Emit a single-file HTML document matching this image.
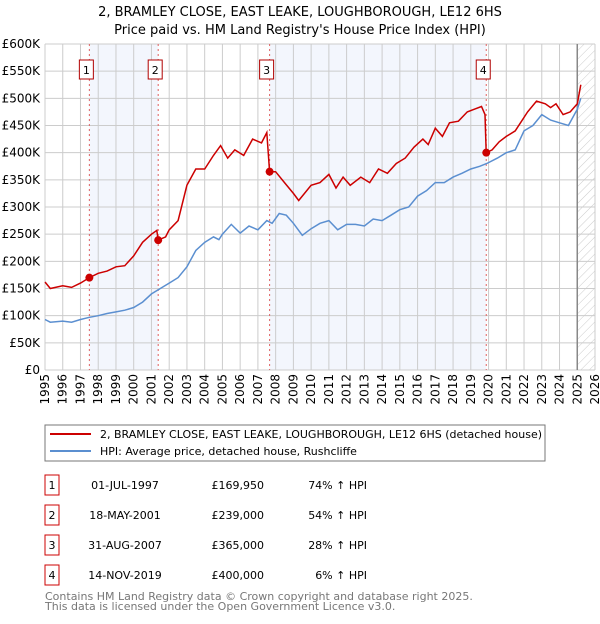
<!DOCTYPE html>
<html><head><meta charset="utf-8"><style>
body{margin:0;background:#fff;font-family:"DejaVu Sans","Liberation Sans",sans-serif;}
svg text{font-family:"DejaVu Sans","Liberation Sans",sans-serif;}
</style></head><body>
<svg id="c" width="600" height="620" xmlns="http://www.w3.org/2000/svg">
<defs><pattern id="h" width="6" height="6" patternUnits="userSpaceOnUse" patternTransform="rotate(45)"><line x1="0" y1="0" x2="0" y2="6" stroke="#ccc" stroke-width="1"/></pattern></defs>
<text x="300" y="16" text-anchor="middle" font-size="13">2, BRAMLEY CLOSE, EAST LEAKE, LOUGHBOROUGH, LE12 6HS</text>
<text x="300" y="34" text-anchor="middle" font-size="13">Price paid vs. HM Land Registry's House Price Index (HPI)</text>
<g id="plot"></g>
<rect x="45" y="425" width="500" height="36" fill="#fff" stroke="#777"/>
<line x1="50" y1="434" x2="91" y2="434" stroke="#cc0000" stroke-width="2"/>
<text x="100" y="438" font-size="11">2, BRAMLEY CLOSE, EAST LEAKE, LOUGHBOROUGH, LE12 6HS (detached house)</text>
<line x1="50" y1="451" x2="91" y2="451" stroke="#5b8fd0" stroke-width="2"/>
<text x="100" y="455" font-size="11">HPI: Average price, detached house, Rushcliffe</text>
<g id="tbl"></g>
<text x="45" y="600" font-size="11" fill="#777">Contains HM Land Registry data © Crown copyright and database right 2025.</text>
<text x="45" y="610" font-size="11" fill="#777">This data is licensed under the Open Government Licence v3.0.</text>
</svg>
<script>
const hpiX=[1995,1995.3,1996,1996.5,1997,1997.5,1998,1998.5,1999,1999.5,2000,2000.5,2001,2001.5,2002,2002.5,2003,2003.5,2004,2004.5,2004.8,2005,2005.5,2006,2006.5,2007,2007.5,2007.8,2008.2,2008.6,2009,2009.5,2010,2010.5,2011,2011.5,2012,2012.5,2013,2013.5,2014,2014.5,2015,2015.5,2016,2016.5,2017,2017.5,2018,2018.5,2019,2019.5,2019.9,2020.5,2021,2021.5,2022,2022.5,2023,2023.5,2024,2024.5,2025,2025.2];
const hpiY=[93,88,90,88,93,97,100,104,107,110,115,125,140,150,160,170,190,220,235,245,240,250,268,252,265,258,275,270,288,285,270,248,260,270,275,258,268,268,265,278,275,285,295,300,320,330,345,345,355,362,370,375,380,390,400,405,440,450,470,460,455,450,480,500];
const prX=[1995,1995.3,1996,1996.5,1997,1997.5,1998,1998.5,1999,1999.5,2000,2000.5,2001,2001.3,2001.38,2001.8,2002,2002.5,2003,2003.5,2004,2004.5,2004.9,2005.3,2005.7,2006.2,2006.7,2007.2,2007.5,2007.66,2008,2008.5,2009,2009.3,2010,2010.5,2011,2011.4,2011.8,2012.2,2012.8,2013.3,2013.8,2014.3,2014.8,2015.3,2015.8,2016.3,2016.6,2017,2017.4,2017.8,2018.3,2018.8,2019.2,2019.6,2019.8,2019.87,2020.2,2020.6,2021,2021.5,2021.8,2022.2,2022.7,2023.2,2023.5,2023.8,2024.2,2024.6,2025,2025.2];
const prY=[162,150,155,152,160,170,178,182,190,192,210,235,250,257,239,245,258,275,340,370,370,395,413,390,405,395,425,418,437,365,365,345,325,312,340,345,360,335,355,340,355,345,370,362,380,390,410,425,415,445,430,455,458,475,480,485,470,400,405,420,430,440,455,475,495,490,483,490,470,475,490,525];
const saleX=[1997.5,2001.38,2007.66,2019.87];
const saleY=[169.95,239,365,400];
const saleDates=["01-JUL-1997","18-MAY-2001","31-AUG-2007","14-NOV-2019"];
const salePrices=["£169,950","£239,000","£365,000","£400,000"];
const saleHpi=["74% ↑ HPI","54% ↑ HPI","28% ↑ HPI","6% ↑ HPI"];
const yTicks=[0,50,100,150,200,250,300,350,400,450,500,550,600];
const yLabels=["£0","£50K","£100K","£150K","£200K","£250K","£300K","£350K","£400K","£450K","£500K","£550K","£600K"];
const xTicks=[1995,1996,1997,1998,1999,2000,2001,2002,2003,2004,2005,2006,2007,2008,2009,2010,2011,2012,2013,2014,2015,2016,2017,2018,2019,2020,2021,2022,2023,2024,2025,2026];
const NS="http://www.w3.org/2000/svg";
const X=v=>45+(v-1995)*(550/31), Y=v=>370-v*(326/600);
const g=document.getElementById('plot');
function mk(t,a,p){const e=document.createElementNS(NS,t);for(const k in a)e.setAttribute(k,a[k]);(p||g).appendChild(e);return e;}
let e;
e=mk('rect',{x:X(saleX[0]),y:Y(600),width:X(saleX[1])-X(saleX[0]),height:Y(0)-Y(600),fill:'#f3f6fd'});


e=mk('rect',{x:X(saleX[2]),y:Y(600),width:X(saleX[3])-X(saleX[2]),height:Y(0)-Y(600),fill:'#f3f6fd'});


e=mk('rect',{x:X(2025),y:Y(600),width:X(2026)-X(2025),height:Y(0)-Y(600),fill:'url(#h)'});


yTicks.forEach((t,i)=>{
 e=mk('line',{x1:45,x2:595,y1:Y(t),y2:Y(t),stroke:'#ccc'});
 
 
 e=mk('text',{x:40,y:Y(t)+4,'text-anchor':'end','font-size':12});e.textContent=yLabels[i];
 
 
});
xTicks.forEach(t=>{
 e=mk('line',{x1:X(t),x2:X(t),y1:Y(600),y2:Y(0),stroke:'#ccc'});
 
 
 e=mk('text',{x:0,y:0,'text-anchor':'end','font-size':12,transform:`translate(${X(t)+4},374) rotate(-90)`});e.textContent=t;
 
 
});
e=mk('line',{x1:X(2025),x2:X(2025),y1:Y(600),y2:Y(0),stroke:'#888','stroke-width':1.5});


saleX.forEach((s,i)=>{
 e=mk('line',{x1:X(s),x2:X(s),y1:Y(600),y2:Y(0),stroke:'#e06060','stroke-dasharray':'2,3'});
 
 
});
const path=(xs,ys)=>xs.map((x,i)=>(i?'L':'M')+X(x).toFixed(1)+','+Y(ys[i]).toFixed(1)).join('');
e=mk('path',{d:path(hpiX,hpiY),fill:'none',stroke:'#5b8fd0','stroke-width':1.5});


e=mk('path',{d:path(prX,prY),fill:'none',stroke:'#cc0000','stroke-width':1.5});


saleX.forEach((s,i)=>{
 e=mk('circle',{cx:X(s),cy:Y(saleY[i]),r:4,fill:'#cc0000'});
 
 
 e=mk('rect',{x:X(s)-10,y:60,width:14,height:19,fill:'#fff',stroke:'#b00000'});
 
 
 e=mk('text',{x:X(s)-3,y:74,'text-anchor':'middle','font-size':11});e.textContent=i+1;
 
 
});
const tb=document.getElementById('tbl');
saleX.forEach((s,i)=>{
 const y=475+i*30;
 e=mk('rect',{x:45,y:y,width:14,height:20,fill:'#fff',stroke:'#cc0000'},tb);
 
 
 e=mk('text',{x:52,y:y+14,'text-anchor':'middle','font-size':11},tb);e.textContent=i+1;
 
 
 e=mk('text',{x:125,y:y+14,'text-anchor':'middle','font-size':11},tb);e.textContent=saleDates[i];
 
 
 e=mk('text',{x:264,y:y+14,'text-anchor':'end','font-size':11},tb);e.textContent=salePrices[i];
 
 
 e=mk('text',{x:367,y:y+14,'text-anchor':'end','font-size':11},tb);e.textContent=saleHpi[i];
 
 
});
</script>
</body></html>
